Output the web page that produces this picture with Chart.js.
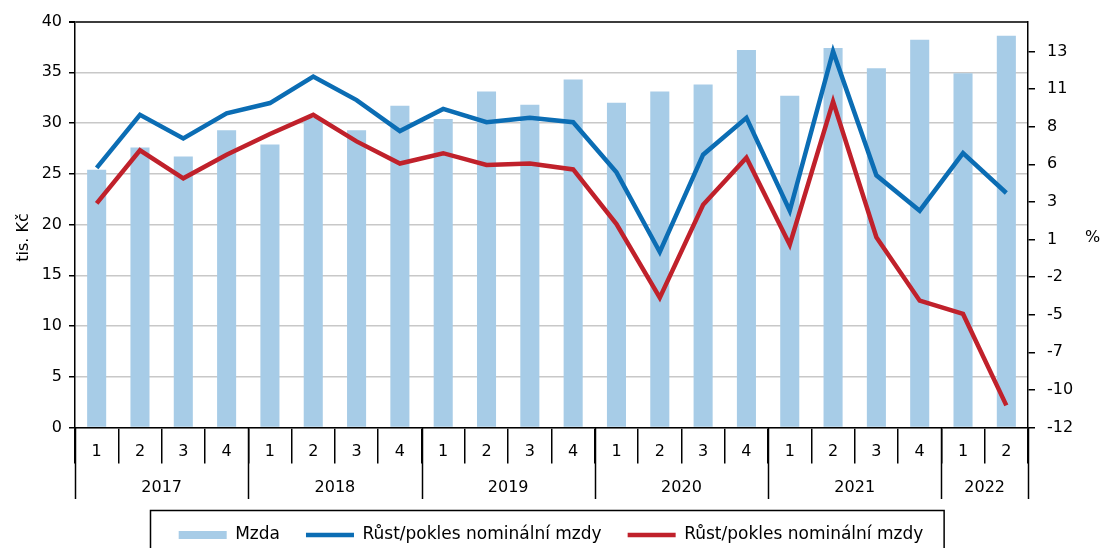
<!DOCTYPE html>
<html>
<head>
<meta charset="utf-8">
<script src="https://cdn.jsdelivr.net/npm/chart.js@4.4.1/dist/chart.umd.min.js"></script>
<style>
  html, body { margin: 0; padding: 0; background: #fff; }
  #wrap { width: 1102px; height: 548px; }
</style>
</head>
<body>
<div id="wrap"><canvas id="chart"></canvas></div>
<script>
// data
const quarters = ['1', '2', '3', '4', '1', '2', '3', '4', '1', '2', '3', '4',
  '1', '2', '3', '4', '1', '2', '3', '4', '1', '2'];
const years = ['2017', '2018', '2019', '2020', '2021', '2022'];
const mzda = [25.4, 27.6, 26.7, 29.3, 27.9, 30.5, 29.3, 31.7, 30.4, 33.1, 31.8,
  34.3, 32.0, 33.1, 33.8, 37.2, 32.7, 37.4, 35.4, 38.2, 34.9, 38.6];
const rustModra = [5.4, 9.0, 7.4, 9.1, 9.8, 11.6, 10.0, 7.9, 9.4, 8.5, 8.8,
  8.5, 5.1, -0.3, 6.3, 8.8, 2.5, 13.3, 4.9, 2.5, 6.4, 3.7];
const rustCervena = [3.0, 6.6, 4.7, 6.3, 7.7, 9.0, 7.2, 5.7, 6.4, 5.6, 5.7,
  5.3, 1.6, -3.4, 2.9, 6.1, 0.2, 9.9, 0.7, -3.6, -4.5, -10.7];
const pctTickLabels = ['-12', '-10', '-7', '-5', '-2', '1', '3', '6', '8', '11', '13'];

const FONT = '"DejaVu Sans", Arial, sans-serif';
const pctMin = -12.2;
const pctStep = 2.55;

// popisky os, roky pod osou x a rámeček legendy
const decor = {
  id: 'decor',
  afterDraw(chart) {
    const { ctx, chartArea } = chart;
    const x = chart.scales.x;
    ctx.save();
    ctx.strokeStyle = '#000';
    ctx.lineWidth = 1.5;
    ctx.fillStyle = '#000';
    ctx.font = '16px ' + FONT;
    ctx.textAlign = 'center';
    ctx.textBaseline = 'middle';

    const starts = [];
    quarters.forEach((q, i) => {
      if (q === '1') starts.push(i);
    });
    starts.push(quarters.length);
    const edge = (i) => x.getPixelForValue(i - 0.5);
    starts.forEach((i) => {
      const px = Math.round(edge(i)) + 0.5;
      ctx.beginPath();
      ctx.moveTo(px, chartArea.bottom);
      ctx.lineTo(px, chartArea.bottom + 71.5);
      ctx.stroke();
    });
    years.forEach((y, k) => {
      ctx.fillText(y, (edge(starts[k]) + edge(starts[k + 1])) / 2, chartArea.bottom + 60);
    });

    const midY = (chartArea.top + chartArea.bottom) / 2 + 13;
    ctx.save();
    ctx.translate(chartArea.left - 51, midY);
    ctx.rotate(-Math.PI / 2);
    ctx.fillText('tis. Kč', 0, 0);
    ctx.restore();
    ctx.textAlign = 'left';
    ctx.fillText('%', chartArea.right + 57, midY);

    const boxes = chart.legend.legendHitBoxes;
    if (boxes && boxes.length) {
      const l = Math.min(...boxes.map((b) => b.left)) - 29;
      const r = Math.max(...boxes.map((b) => b.left + b.width)) + 20;
      ctx.lineWidth = 1.5;
      ctx.strokeRect(Math.round(l) + 0.5, 510.5, r - l, 60);
    }
    ctx.restore();
  },
};

new Chart(document.getElementById('chart'), {
  data: {
    labels: quarters,
    datasets: [
      {
        type: 'bar',
        label: 'Mzda',
        data: mzda,
        yAxisID: 'y',
        backgroundColor: '#a7cce7',
        borderWidth: 0,
        barPercentage: 0.44,
        categoryPercentage: 1,
        pointStyle: 'rect',
        order: 2,
      },
      {
        type: 'line',
        label: 'Růst/pokles nominální mzdy',
        data: rustModra,
        yAxisID: 'y2',
        borderColor: '#0b6db4',
        backgroundColor: '#0b6db4',
        borderWidth: 4.5,
        pointRadius: 0,
        pointStyle: 'line',
        tension: 0,
        order: 1,
      },
      {
        type: 'line',
        label: 'Růst/pokles nominální mzdy',
        data: rustCervena,
        yAxisID: 'y2',
        borderColor: '#c0212b',
        backgroundColor: '#c0212b',
        borderWidth: 4.5,
        pointRadius: 0,
        pointStyle: 'line',
        tension: 0,
        order: 0,
      },
    ],
  },
  options: {
    responsive: true,
    maintainAspectRatio: false,
    animation: false,
    layout: {
      padding: { top: 20.5, left: 0, right: 0, bottom: -5.5 },
    },
    plugins: {
      tooltip: { enabled: false },
      legend: {
        position: 'bottom',
        labels: {
          usePointStyle: true,
          pointStyleWidth: 48,
          boxHeight: 8,
          padding: 26,
          color: '#000',
          font: { family: FONT, size: 17 },
          sort: (a, b) => a.datasetIndex - b.datasetIndex,
        },
      },
    },
    scales: {
      x: {
        offset: true,
        grid: {
          offset: true,
          drawOnChartArea: false,
          tickLength: 36,
          color: '#000',
          lineWidth: 1.5,
        },
        border: { color: '#000', width: 1.5 },
        ticks: {
          padding: -21,
          autoSkip: false,
          maxRotation: 0,
          color: '#000',
          font: { family: FONT, size: 16 },
        },
        afterFit(scale) {
          scale.height = 73;
        },
      },
      y: {
        position: 'left',
        min: 0,
        max: 40,
        ticks: {
          stepSize: 5,
          padding: 7,
          color: '#000',
          font: { family: FONT, size: 16 },
        },
        grid: {
          color: (c) => (c.tick && c.tick.value === 40 ? '#3c3c3c' : '#c8c8c8'),
          lineWidth: (c) => (c.tick && c.tick.value === 40 ? 2 : 1.5),
          tickColor: '#000',
          tickLength: 6,
        },
        border: { color: '#000', width: 1.5 },
        afterFit(scale) {
          scale.width = 75;
        },
      },
      y2: {
        position: 'right',
        min: pctMin,
        max: pctMin + pctStep * (408 / 37.8),
        afterBuildTicks(scale) {
          scale.ticks = pctTickLabels.map((_, k) => ({ value: pctMin + pctStep * k }));
        },
        ticks: {
          padding: 12,
          color: '#000',
          font: { family: FONT, size: 16 },
          callback: (v, i) => pctTickLabels[i],
        },
        grid: {
          drawOnChartArea: false,
          tickColor: '#000',
          tickLength: 7,
          lineWidth: 1.5,
        },
        border: { color: '#000', width: 1.5 },
        afterFit(scale) {
          scale.width = 74;
        },
      },
    },
  },
  plugins: [decor],
});
</script>
</body>
</html>
